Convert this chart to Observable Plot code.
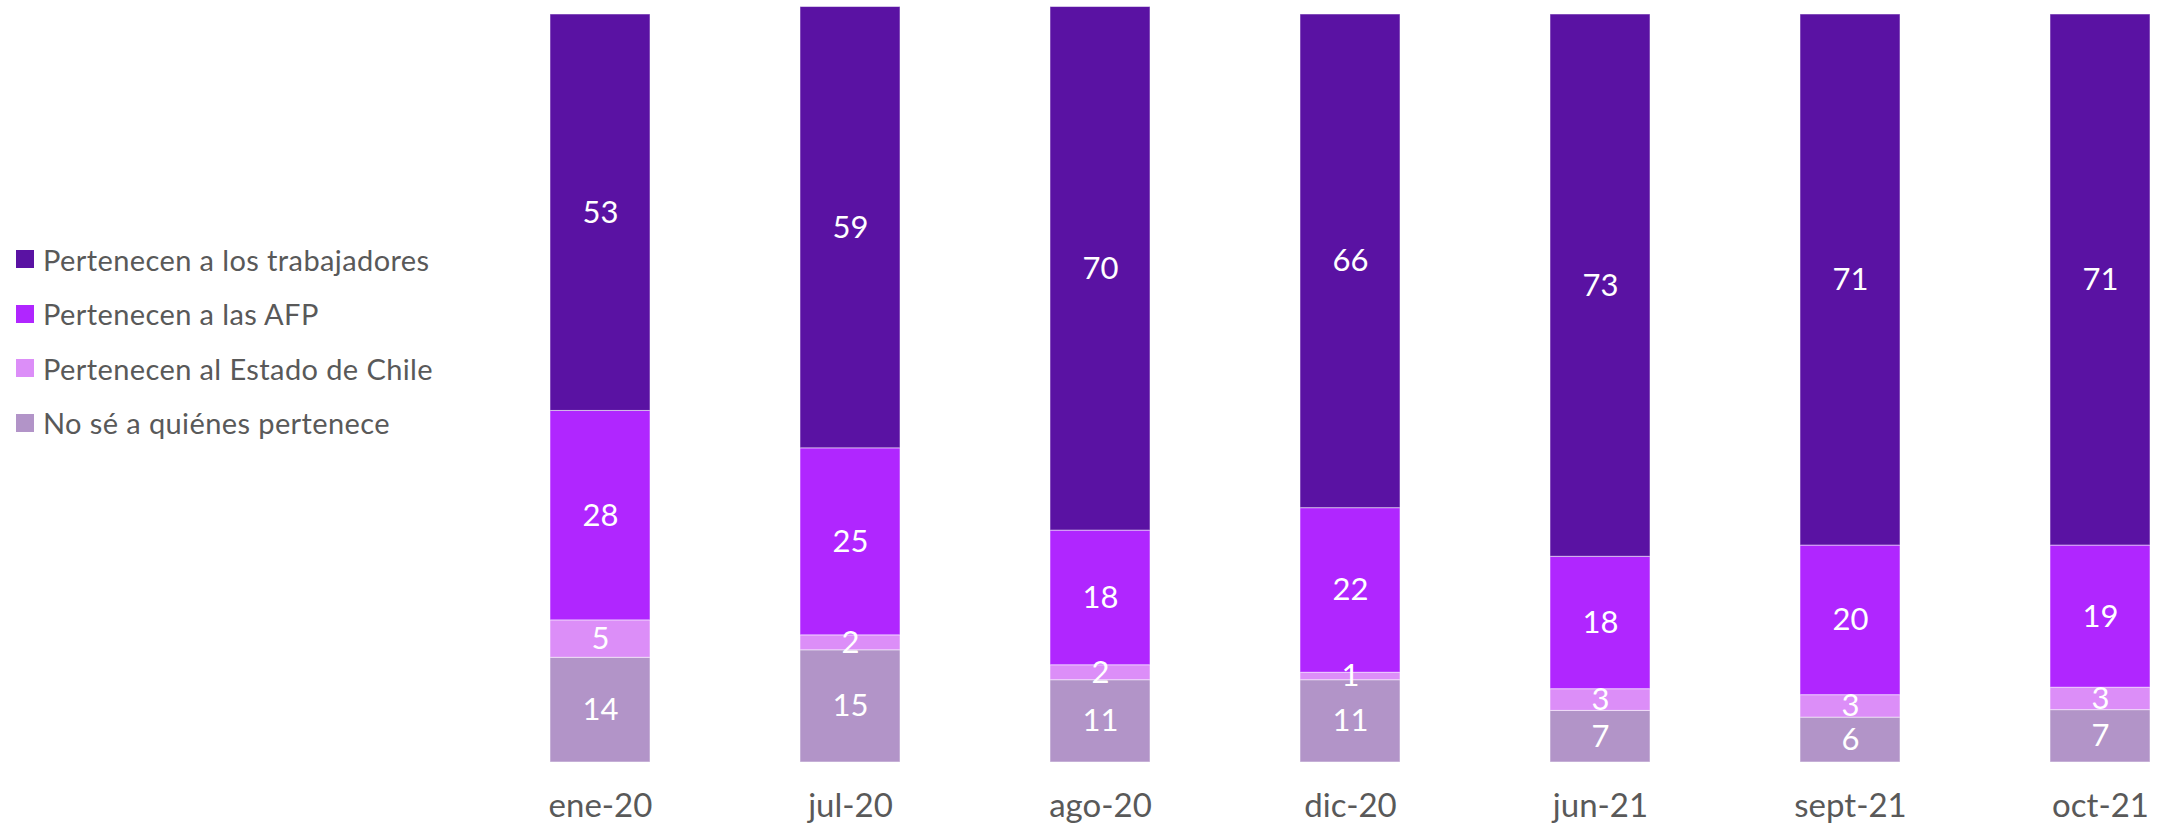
<!DOCTYPE html>
<html>
<head>
<meta charset="utf-8">
<script src="https://cdn.jsdelivr.net/npm/d3@7"></script>
<script src="https://cdn.jsdelivr.net/npm/@observablehq/plot@0.6"></script>
<style>
  body { margin: 0; background: #fff; }
  #wrap { position: relative; width: 2164px; height: 829px; font-family: Lato, "Open Sans", sans-serif; }
  #legend { position: absolute; left: 16px; top: 0; }
  .item { position: absolute; left: 0; display: flex; align-items: center; white-space: nowrap; color: #595959; font-size: 29px; letter-spacing: 0.4px; }
  .sw { width: 18px; height: 18px; margin-right: 9px; flex: none; }
</style>
</head>
<body>
<div id="wrap"><div id="legend"></div></div>
<script>
const fechas = ["ene-20", "jul-20", "ago-20", "dic-20", "jun-21", "sept-21", "oct-21"];
const series = ["No sé a quiénes pertenece", "Pertenecen al Estado de Chile", "Pertenecen a las AFP", "Pertenecen a los trabajadores"];
const noSe = [14, 15, 11, 11, 6.9, 6, 7];
const estado = [5, 2, 2, 1, 2.9, 3, 3];
const afp = [28, 25, 18, 22, 17.7, 20, 19];
const trabajadores = [53, 59, 70, 66, 72.5, 71, 71];
const colores = ["#B294C8", "#DC8EF8", "#B026FF", "#5A12A3"];
const legendOrder = [3, 2, 1, 0];

const valores = [noSe, estado, afp, trabajadores];
const data = [];
series.forEach((s, i) => fechas.forEach((f, j) => data.push({fecha: f, serie: s, valor: valores[i][j]})));

const chart = Plot.plot({
  width: 2164,
  height: 829,
  marginLeft: 547,
  marginRight: 12,
  marginTop: 14,
  marginBottom: 67,
  style: {fontFamily: "Lato, 'Open Sans', sans-serif", background: "transparent"},
  x: {domain: fechas, padding: 0.6, paddingOuter: 0, label: null},
  y: {domain: [0, 100], axis: null},
  color: {domain: series, range: colores},
  marks: [
    Plot.barY(data, {x: "fecha", y: "valor", z: "serie", fill: "serie", stroke: "white", strokeOpacity: 0.5, strokeWidth: 1}),
    Plot.text(data, Plot.stackY({x: "fecha", y: "valor", z: "serie", text: d => String(Math.round(d.valor)), fill: "white", fontSize: 31})),
    Plot.axisX({tickSize: 0, tickPadding: 31, fontSize: 33, fill: "#595959", label: null})
  ]
});
document.getElementById("wrap").prepend(chart);

const legend = document.getElementById("legend");
const tops = [259, 313.5, 368, 422.5];
legendOrder.forEach((si, k) => {
  const it = document.createElement("div");
  it.className = "item";
  it.style.top = (tops[k] - 20) + "px";
  it.style.height = "40px";
  const sw = document.createElement("span");
  sw.className = "sw";
  sw.style.background = colores[si];
  const tx = document.createElement("span");
  tx.textContent = series[si];
  it.append(sw, tx);
  legend.append(it);
});
</script>
</body>
</html>
